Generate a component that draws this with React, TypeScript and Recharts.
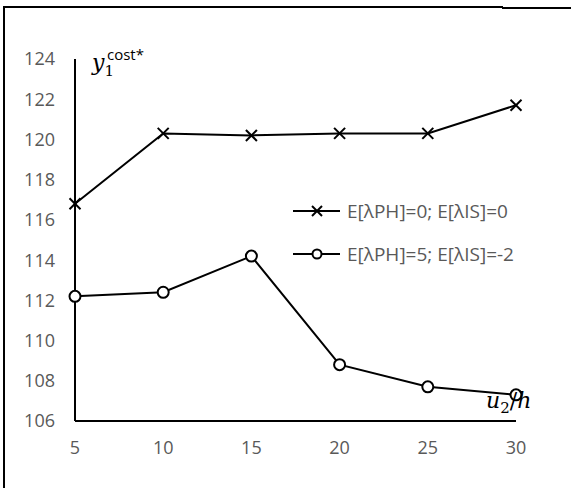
import React from "react";
import { LineChart, Line, XAxis, YAxis } from "recharts";

const xValues = [5, 10, 15, 20, 25, 30];
const seriesZero = [116.8, 120.3, 120.2, 120.3, 120.3, 121.7];
const seriesFive = [112.2, 112.4, 114.2, 108.8, 107.7, 107.3];
const xTicks = [5, 10, 15, 20, 25, 30];
const yTicks = [106, 108, 110, 112, 114, 116, 118, 120, 122, 124];
const seriesNames = ["E[λPH]=0; E[λIS]=0", "E[λPH]=5; E[λIS]=-2"];

const data = xValues.map((x, i) => ({ x, a: seriesZero[i], b: seriesFive[i] }));

const FONT = "'Open Sans', 'Noto Sans', sans-serif";
const GREY = "#595959";

function CrossDot(props: any) {
  const { cx, cy } = props;
  if (cx == null || cy == null) return null;
  const s = 5.5;
  return (
    <g>
      <line x1={cx - s} y1={cy - s} x2={cx + s} y2={cy + s} stroke="#000" strokeWidth={2} />
      <line x1={cx - s} y1={cy + s} x2={cx + s} y2={cy - s} stroke="#000" strokeWidth={2} />
    </g>
  );
}

function CircleDot(props: any) {
  const { cx, cy } = props;
  if (cx == null || cy == null) return null;
  return <circle cx={cx} cy={cy} r={5.5} fill="#fff" stroke="#000" strokeWidth={2} />;
}

function LegendBox() {
  const row = (name: string, marker: "x" | "o") => (
    <div style={{ display: "flex", alignItems: "center", height: 43 }}>
      <svg width={54} height={16} style={{ flex: "none" }}>
        <line x1={0} y1={8} x2={47} y2={8} stroke="#000" strokeWidth={2} />
        {marker === "x" ? (
          <g>
            <line x1={19} y1={3} x2={29} y2={13} stroke="#000" strokeWidth={2} />
            <line x1={19} y1={13} x2={29} y2={3} stroke="#000" strokeWidth={2} />
          </g>
        ) : (
          <circle cx={24} cy={8} r={4.5} fill="#fff" stroke="#000" strokeWidth={2} />
        )}
      </svg>
      <span style={{ color: GREY, fontSize: 19, fontFamily: FONT, whiteSpace: "nowrap" }}>{name}</span>
    </div>
  );
  return (
    <div style={{ position: "absolute", left: 293, top: 189 }}>
      {row(seriesNames[0], "x")}
      {row(seriesNames[1], "o")}
    </div>
  );
}

export default function App() {
  return (
    <div style={{ position: "absolute", left: 0, top: 0, width: 571, height: 488, background: "#fff" }}>
      {/* frame lines */}
      <div style={{ position: "absolute", left: 3, top: 6, width: 500, height: 2, background: "#000" }} />
      <div style={{ position: "absolute", left: 502, top: 7, width: 69, height: 2, background: "#000" }} />
      <div style={{ position: "absolute", left: 3, top: 6, width: 2, height: 482, background: "#000" }} />

      <LineChart
        width={571}
        height={488}
        data={data}
        margin={{ top: 59, right: 55, bottom: 37, left: 15 }}
        style={{ position: "absolute", left: 0, top: 0 }}
      >
        <XAxis
          dataKey="x"
          type="number"
          domain={[5, 30]}
          ticks={xTicks}
          height={30}
          tickLine={false}
          tickSize={0}
          tickMargin={20}
          axisLine={{ stroke: "#000", strokeWidth: 2 }}
          tick={{ fill: GREY, fontSize: 18, fontFamily: FONT }}
        />
        <YAxis
          type="number"
          domain={[106, 124]}
          ticks={yTicks}
          width={60}
          tickLine={false}
          tickSize={0}
          tickMargin={20}
          axisLine={{ stroke: "#000", strokeWidth: 2 }}
          tick={{ fill: GREY, fontSize: 18, fontFamily: FONT }}
        />
        <Line
          dataKey="a"
          name={seriesNames[0]}
          stroke="#000"
          strokeWidth={2}
          dot={<CrossDot />}
          activeDot={false}
          isAnimationActive={false}
        />
        <Line
          dataKey="b"
          name={seriesNames[1]}
          stroke="#000"
          strokeWidth={2}
          dot={<CircleDot />}
          activeDot={false}
          isAnimationActive={false}
        />
      </LineChart>

      <LegendBox />

      {/* y axis title */}
      <div style={{ position: "absolute", left: 92, top: 52, fontFamily: "'DejaVu Serif', serif", color: "#000", lineHeight: 1 }}>
        <span style={{ fontStyle: "italic", fontSize: 22 }}>y</span>
        <span style={{ position: "relative", fontSize: 15, top: 6 }}>1</span>
        <span style={{ position: "relative", fontSize: 15, top: -10, left: -7, fontFamily: FONT }}>cost*</span>
      </div>
      {/* x axis title */}
      <div style={{ position: "absolute", left: 486, top: 390, fontFamily: "'DejaVu Serif', serif", color: "#000", lineHeight: 1 }}>
        <span style={{ fontStyle: "italic", fontSize: 22 }}>u</span>
        <span style={{ position: "relative", fontSize: 15, top: 5 }}>2</span>
        <span style={{ fontSize: 22 }}>/</span>
        <span style={{ fontStyle: "italic", fontSize: 22 }}>h</span>
      </div>
    </div>
  );
}
